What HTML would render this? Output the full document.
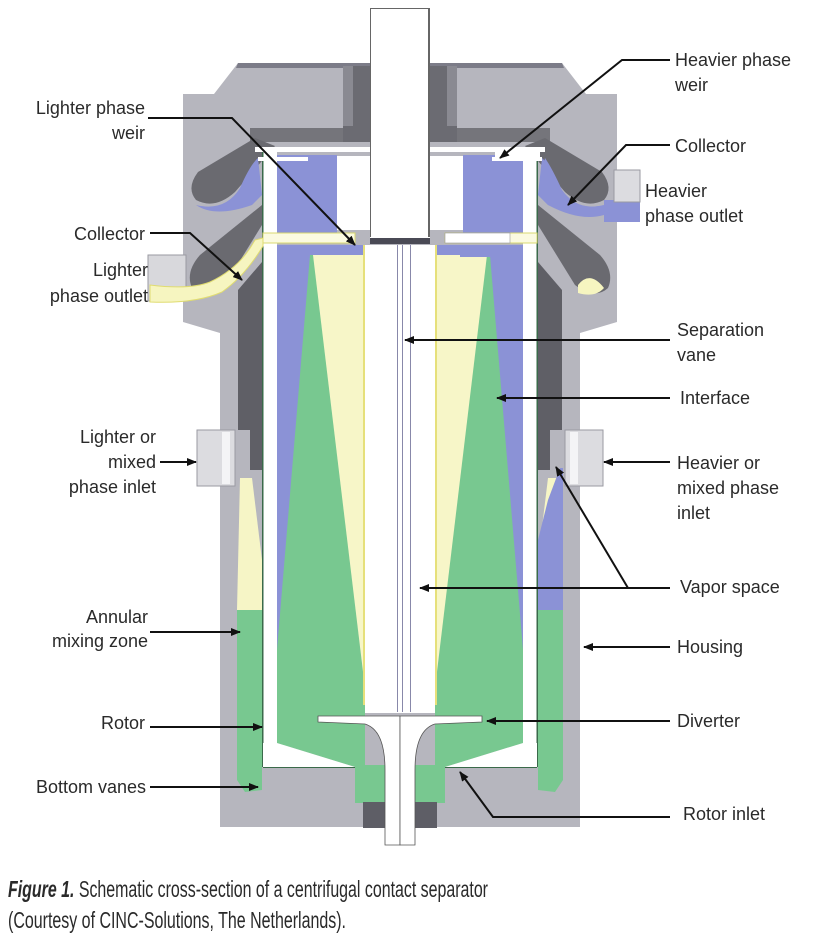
<!DOCTYPE html>
<html><head><meta charset="utf-8"><style>
html,body{margin:0;padding:0;background:#fff;}
svg{display:block;}
text{font-family:"Liberation Sans",Arial,sans-serif;fill:#2a2a2a;}
</style></head><body>
<svg width="830" height="951" viewBox="0 0 830 951" xmlns="http://www.w3.org/2000/svg">
<defs>
<marker id="ah" markerWidth="10" markerHeight="8" refX="9" refY="4" orient="auto" markerUnits="userSpaceOnUse">
<path d="M0,0 L10,4 L0,8 z" fill="#111"/></marker>
<g id="half">
  <path d="M238,63 L400,63 L400,827 L220,827 L220,333 L183,322 L183,94 L214,94 Z" fill="#b6b6be"/>
  <path d="M238,63 L400,63 L400,68 L236,68 Z" fill="#7c7c88"/>
  <rect x="250" y="128" width="120" height="14" fill="#75757b"/>
  <rect x="343" y="66" width="27" height="76" fill="#6b6b72"/>
  <rect x="343" y="66" width="10" height="60" fill="#8a8a92"/>
  <path d="M255,138 L275,146 L235,192 Q215,210 196,200 Q186,188 198,172 Z" fill="#6a6a70"/>
  <path d="M258,158 Q250,165 240,188 Q225,212 196,205 Q215,218 252,205 L262,195 Z" fill="#8b92d6"/>
  <path d="M262,205 L262,225 L225,285 Q205,300 192,288 Q185,272 200,255 Z" fill="#6a6a70"/>
  <path d="M238,290 L262,262 L262,470 L250,470 L250,430 L238,430 Z" fill="#5f5f66"/>
  <rect x="197" y="430" width="38" height="56" fill="#dcdce0" stroke="#9a9aa2"/>
  <rect x="222" y="432" width="8" height="52" fill="#f4f4f6"/>
  <path d="M240,478 L252,478 L262,560 L262,610 L237,610 Z" fill="#f6f5c6"/>
  <path d="M237,610 L262,610 L262,790 L245,792 L237,780 Z" fill="#78c890"/>
  <rect x="255" y="147" width="115" height="5" fill="#fff"/>
  <rect x="263" y="152" width="14" height="615" fill="#fff"/>
  <rect x="262" y="152" width="1.5" height="615" fill="#3a6a4a"/>
  <rect x="277" y="155" width="60" height="78" fill="#8b92d6"/>
  <rect x="337" y="156" width="33" height="74" fill="#fff"/>
  <rect x="258" y="157" width="50" height="4" fill="#fff"/>
  <rect x="263" y="233" width="92" height="10" fill="#fbfae0" stroke="#d8d870" stroke-width="1"/>
  <rect x="370" y="236" width="30" height="8" fill="#4a4a55"/>
  <rect x="277" y="245" width="88" height="500" fill="#8b92d6"/>
  <path d="M310,255 L365,255 L365,745 L277,745 L277,650 Z" fill="#78c890"/>
  <path d="M313,255 L365,255 L367,705 Z" fill="#f7f6c8"/>
  <rect x="363" y="245" width="2" height="460" fill="#e6e07a"/>
  <path d="M277,712 L365,712 L365,767 L355,767 L277,743 Z" fill="#78c890"/>
  <path d="M263,767 L263,743 L277,743 L355,767 Z" fill="#fff"/>
  <line x1="263" y1="767.5" x2="355" y2="767.5" stroke="#3a6a4a" stroke-width="1"/>
  <rect x="355" y="765" width="30" height="38" fill="#78c890"/>
  <rect x="363" y="802" width="22" height="26" fill="#5e5e66"/>
  <rect x="365" y="245" width="35" height="468" fill="#fff"/>
  <path d="M318,716 L400,716 L400,845 L385,845 L385,770 Q385,730 365,724 L318,722 Z" fill="#fff" stroke="#555" stroke-width="0.8"/>
  <rect x="370" y="8" width="30" height="230" fill="#fff"/>
  <line x1="370.5" y1="8" x2="370.5" y2="237" stroke="#666"/>
  <line x1="370" y1="8.5" x2="400" y2="8.5" stroke="#666"/>
  <line x1="397.5" y1="245" x2="397.5" y2="712" stroke="#8888aa"/>
</g>
</defs>
<use href="#half"/>
<use href="#half" transform="translate(800,0) scale(-1,1)"/>
<!-- right-side overrides -->
<path d="M545,158 Q552,168 562,190 Q578,212 604,205 L604,215 Q580,222 548,205 L538,195 Z" fill="#8b92d6"/>
<rect x="604" y="200" width="36" height="22" fill="#8b92d6"/>
<rect x="614" y="170" width="26" height="32" fill="#dcdce0" stroke="#9a9aa2"/>
<!-- left lighter outlet -->
<rect x="148" y="255" width="38" height="46" fill="#d8d8dc" stroke="#9a9aa2"/>
<path d="M150,285 Q190,290 210,282 Q240,268 255,240 L263,238 L263,246 Q245,276 222,292 Q195,304 150,302 Z" fill="#f6f5c0" stroke="#e0dc70" stroke-width="1"/>
<!-- right annulus blue -->
<path d="M560,468 L548,500 L538,540 L538,610 L563,610 L563,468 Z" fill="#8b92d6"/>
<path d="M578,285 Q590,270 604,288 Q595,298 578,293 Z" fill="#f6f5c0"/>
<rect x="445" y="233" width="65" height="10" fill="#fff" stroke="#999" stroke-width="0.6"/>
<rect x="495" y="152" width="45" height="5" fill="#fff"/>
<rect x="460" y="245" width="40" height="12" fill="#8b92d6"/>
<line x1="410.5" y1="245" x2="410.5" y2="712" stroke="#8888aa"/>
<line x1="428.5" y1="8" x2="428.5" y2="237" stroke="#666"/>
<!-- connectors -->
<g stroke="#111" stroke-width="2" fill="none">
<path d="M148,118 L232,118 L355,245" marker-end="url(#ah)"/>
<path d="M670,60 L622,60 L500,158" marker-end="url(#ah)"/>
<path d="M670,145 L626,145 L568,205" marker-end="url(#ah)"/>
<path d="M150,233 L190,233 L242,280" marker-end="url(#ah)"/>
<path d="M670,340 L405,340" marker-end="url(#ah)"/>
<path d="M670,398 L497,398" marker-end="url(#ah)"/>
<path d="M160,462 L196,462" marker-end="url(#ah)"/>
<path d="M670,462 L604,462" marker-end="url(#ah)"/>
<path d="M670,588 L420,588" marker-end="url(#ah)"/>
<path d="M628,588 L556,467" marker-end="url(#ah)"/>
<path d="M150,632 L240,632" marker-end="url(#ah)"/>
<path d="M670,647 L584,647" marker-end="url(#ah)"/>
<path d="M150,727 L262,727" marker-end="url(#ah)"/>
<path d="M670,721 L487,721" marker-end="url(#ah)"/>
<path d="M150,787 L258,787" marker-end="url(#ah)"/>
<path d="M670,817 L493,817 L460,772" marker-end="url(#ah)"/>
</g>
<g font-size="18">
<text x="145" y="114" text-anchor="end">Lighter phase</text>
<text x="145" y="139" text-anchor="end">weir</text>
<text x="675" y="66">Heavier phase</text>
<text x="675" y="91">weir</text>
<text x="675" y="152">Collector</text>
<text x="645" y="197">Heavier</text>
<text x="645" y="222">phase outlet</text>
<text x="145" y="240" text-anchor="end">Collector</text>
<text x="148" y="276" text-anchor="end">Lighter</text>
<text x="148" y="302" text-anchor="end">phase outlet</text>
<text x="677" y="336">Separation</text>
<text x="677" y="361">vane</text>
<text x="680" y="404">Interface</text>
<text x="156" y="443" text-anchor="end">Lighter or</text>
<text x="156" y="468" text-anchor="end">mixed</text>
<text x="156" y="493" text-anchor="end">phase inlet</text>
<text x="677" y="469">Heavier or</text>
<text x="677" y="494">mixed phase</text>
<text x="677" y="519">inlet</text>
<text x="680" y="593">Vapor space</text>
<text x="148" y="623" text-anchor="end">Annular</text>
<text x="148" y="647" text-anchor="end">mixing zone</text>
<text x="677" y="653">Housing</text>
<text x="145" y="729" text-anchor="end">Rotor</text>
<text x="677" y="727">Diverter</text>
<text x="146" y="793" text-anchor="end">Bottom vanes</text>
<text x="683" y="820">Rotor inlet</text>
</g>
<text x="8" y="897" font-size="23" textLength="480" lengthAdjust="spacingAndGlyphs"><tspan font-weight="bold" font-style="italic">Figure 1.</tspan>  Schematic cross-section of a centrifugal contact separator</text>
<text x="8" y="928" font-size="23" textLength="338" lengthAdjust="spacingAndGlyphs">(Courtesy of CINC-Solutions, The Netherlands).</text>
</svg>
</body></html>
